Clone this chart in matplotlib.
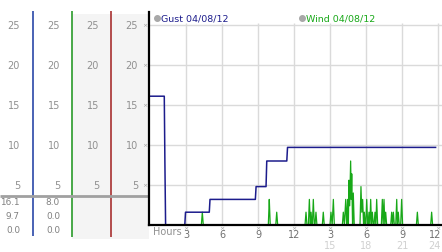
import matplotlib.pyplot as plt
from matplotlib.transforms import blended_transform_factory

# gust speed, step line (hours, value)
gust_t = [0.0, 1.19, 1.24, 1.30, 2.90, 2.96, 4.94, 5.00, 8.78, 8.84, 9.67, 9.73, 11.40, 11.46, 23.80]
gust_v = [16.1, 16.1, 8.0, 0.0, 0.0, 1.6, 1.6, 3.2, 3.2, 4.8, 4.8, 8.0, 8.0, 9.7, 9.7]

# wind speed, spiky line (hours, value)
wind_t = [0.0, 4.28, 4.36, 4.44,
          9.86, 9.90, 9.94, 9.98, 10.02,
          10.48, 10.56, 10.64,
          12.92, 13.00, 13.08, 13.20, 13.28, 13.36, 13.42, 13.50, 13.53, 13.61, 13.69, 13.75, 13.83, 13.91,
          14.36, 14.44, 14.52,
          15.00, 15.08, 15.18, 15.28, 15.36,
          16.03, 16.11, 16.20, 16.31, 16.39, 16.47, 16.53, 16.58, 16.64, 16.72, 16.77, 16.81, 16.88, 16.94, 17.02,
          17.50, 17.58, 17.65, 17.72, 17.80, 17.86, 17.94, 17.98, 18.06, 18.14,
          18.17, 18.25, 18.32, 18.39, 18.46, 18.53, 18.61, 18.67, 18.75, 18.82, 18.89, 18.97,
          19.28, 19.36, 19.43, 19.50, 19.57, 19.64, 19.72,
          20.06, 20.14, 20.21, 20.28, 20.36, 20.48, 20.56, 20.62, 20.69, 20.77, 20.89, 20.97, 21.05,
          22.20, 22.28, 22.36,
          23.39, 23.47, 23.55, 24.33]
wind_v = [0, 0, 1.6, 0,
          0, 1.6, 3.2, 1.6, 0,
          0, 1.6, 0,
          0, 1.6, 0, 0, 3.2, 0, 1.6, 0, 0, 3.2, 0, 0, 1.6, 0,
          0, 1.6, 0,
          0, 1.6, 0, 3.2, 0,
          0, 1.6, 0, 3.2, 0, 3.2, 0, 5.6, 2.4, 8.0, 3.2, 6.4, 0, 4.0, 0,
          0, 4.8, 1.6, 3.2, 0, 1.6, 0, 0, 3.2, 0,
          0, 1.6, 0, 3.2, 0, 1.6, 0, 0, 1.6, 0, 3.2, 0,
          0, 3.2, 0, 3.2, 0, 1.6, 0,
          0, 1.6, 0, 1.6, 0, 0, 3.2, 0, 1.6, 0, 0, 3.2, 0,
          0, 1.6, 0,
          0, 1.6, 0, 0]

y_ticks = [5, 10, 15, 20, 25]
hour_ticks = [3, 6, 9, 12, 15, 18, 21, 24]
hour_labels = ['3', '6', '9', '12', '3', '6', '9', '12']
hour_labels2 = {15: '15', 18: '18', 21: '21', 24: '24'}

# readouts under the scale columns
gust_vals = ['16.1', '9.7', '0.0']
wind_vals = ['8.0', '0.0', '0.0']

gust_col = '#1c1c8c'
wind_col = '#18a818'

W, H = 442, 253
fig = plt.figure(figsize=(W / 100, H / 100), dpi=100)

# pixel overlay for the scale panel on the left
bg = fig.add_axes([0, 0, 1, 1])
bg.set_xlim(0, W)
bg.set_ylim(H, 0)
bg.axis('off')

# main plot: 0 h at x=150, 12 px per hour, 8 px per unit, 0 at y=226
x0, top, base = 150, 13, 226
ax = fig.add_axes([(x0 - 1) / W, (H - base) / H, (W - x0 + 1) / W, (base - top) / H])
ax.set_facecolor('none')
ax.set_xlim(-1 / 12, (W - x0) / 12)
ax.set_ylim(0, (base - top) / 8)
ax.set_xticks([])
ax.set_yticks([])
for s in ['top', 'right']:
    ax.spines[s].set_visible(False)
for s in ['left', 'bottom']:
    ax.spines[s].set_linewidth(1.6)
    ax.spines[s].set_zorder(5)

for v in y_ticks:
    ax.axhline(v, color='#dadada', lw=1, zorder=0)
ax.vlines(hour_ticks, 0, 25.3, color='#dadada', lw=1, zorder=0)

ax.plot(wind_t, wind_v, color=wind_col, lw=0.9, zorder=2)
ax.plot(gust_t, gust_v, color=gust_col, lw=1.1, zorder=3)

# left scale columns
bg.add_patch(plt.Rectangle((72, 15), 77, 225, color='#f4f4f4', lw=0, zorder=0))
bg.vlines(33, 12, 237, color='#2a48a8', lw=1.2)
bg.vlines(72, 12, 238, color='#2a9a2a', lw=1.2)
bg.vlines(111, 12, 238, color='#a83030', lw=1.2)
bg.hlines(196.5, 0, 149, color='#a0a0a0', lw=2)

tr_left = blended_transform_factory(bg.transData, ax.transData)
for v in y_ticks:
    for xr in [20, 60, 99, 138]:
        bg.text(xr, v, str(v), transform=tr_left, ha='right', va='center', fontsize=7, color='#909090')
    bg.text(145, v, '×', transform=tr_left, ha='center', va='center', fontsize=4.5, color='#a0a0a0')

for i, (g, w) in enumerate(zip(gust_vals, wind_vals)):
    y = 203 + i * 14
    bg.text(20, y, g, ha='right', va='center', fontsize=6.4, color='#808080')
    bg.text(60, y, w, ha='right', va='center', fontsize=6.4, color='#808080')

# x axis labels
tr_bot = blended_transform_factory(ax.transData, bg.transData)
ax.text(0.25, 232, 'Hours', transform=tr_bot, ha='left', va='center', fontsize=7, color='#909090')
for h, lab in zip(hour_ticks, hour_labels):
    # last column sits against the right edge
    ha, hx = ('right', h + 0.25) if h == hour_ticks[-1] else ('center', h)
    ax.text(h, 228.5, '×', transform=tr_bot, ha='center', va='center', fontsize=4.5, color='#a0a0a0', clip_on=False)
    ax.text(hx, 235, lab, transform=tr_bot, ha=ha, va='center', fontsize=7, color='#707070', clip_on=False)
    if h in hour_labels2:
        ax.text(hx, 246, hour_labels2[h], transform=tr_bot, ha=ha, va='center', fontsize=7, color='#d0d0d0', clip_on=False)

# legend entries
bg.plot([157, 302], [19, 19], 'o', ms=4, color='#a8a8a8', zorder=6)
bg.text(161, 19, 'Gust 04/08/12', ha='left', va='center', fontsize=6.8, color=gust_col)
bg.text(306, 19, 'Wind 04/08/12', ha='left', va='center', fontsize=6.8, color=wind_col)

fig.savefig('out.png', dpi=100)
